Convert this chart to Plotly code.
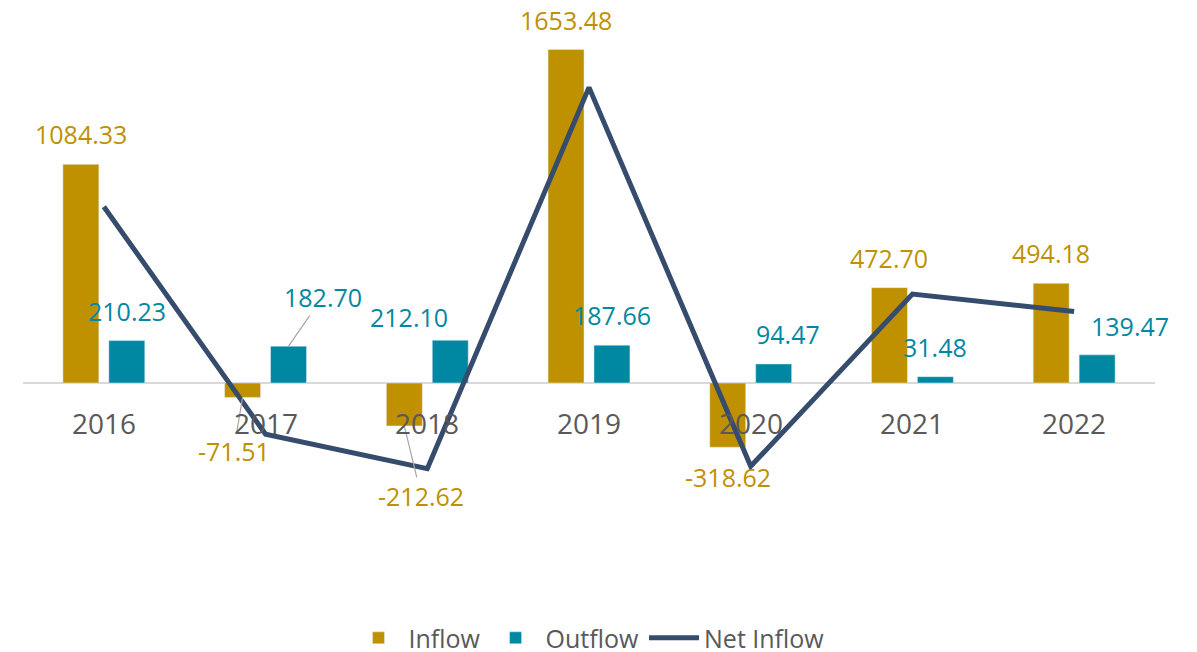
"""
Inflow / outflow by year with net inflow line — Excel-style combo chart.
"""

import plotly.graph_objects as go

# ── Data ──────────────────────────────────────────────────────────────────────
YEARS      = ["2016", "2017", "2018", "2019", "2020", "2021", "2022"]
INFLOW     = [1084.33, -71.51, -212.62, 1653.48, -318.62, 472.70, 494.18]
OUTFLOW    = [210.23, 182.70, 212.10, 187.66, 94.47, 31.48, 139.47]
NET_INFLOW = [874.10, -254.21, -424.72, 1465.82, -413.09, 441.22, 354.71]

# ── Palette ───────────────────────────────────────────────────────────────────
GOLD   = "#BF9000"
TEAL   = "#0088A2"
NAVY   = "#354C6D"
GREY   = "#595959"
ZERO   = "#D9D9D9"
LEADER = "#A6A6A6"
FONT   = "Open Sans, Noto Sans, Arial, sans-serif"

BAR_SHIFT = 23      # px from category centre to each bar centre
GAP       = 30      # px between bar end and its label centre

# label nudges (dx, dy in px, leader line?) for labels Excel moved by hand
MOVED_IN  = {1: (-9, 54, True), 2: (17, 70, True)}
MOVED_OUT = {1: (34, -49, True), 2: (-41, -23, False), 4: (14, -30, False), 6: (33, -29, False)}

fig = go.Figure()
fig.add_trace(go.Bar(x=YEARS, y=INFLOW, name="Inflow", marker_color=GOLD))
fig.add_trace(go.Bar(x=YEARS, y=OUTFLOW, name="Outflow", marker_color=TEAL))
fig.add_trace(go.Scatter(x=YEARS, y=NET_INFLOW, name="Net Inflow", mode="lines",
                         line=dict(color=NAVY, width=5)))


# ── Data labels ───────────────────────────────────────────────────────────────
# on a category axis annotations take the category's serial number
def _labels(values, shift, color, moved):
    for i, v in enumerate(values):
        dx, dy, leader = moved.get(i, (0, -GAP if v >= 0 else GAP, False))
        font = dict(family=FONT, size=25, color=color)
        if leader:
            fig.add_annotation(x=i, y=v, xshift=shift, text=f"{v:.2f}", font=font,
                               showarrow=True, ax=dx, ay=dy, arrowhead=0,
                               arrowwidth=1.2, arrowcolor=LEADER, standoff=0)
        else:
            fig.add_annotation(x=i, y=v, xshift=shift + dx, yshift=-dy,
                               text=f"{v:.2f}", font=font, showarrow=False,
                               yanchor="middle")


_labels(INFLOW, -BAR_SHIFT, GOLD, MOVED_IN)
_labels(OUTFLOW, BAR_SHIFT, TEAL, MOVED_OUT)

# category labels sit under the zero line, like Excel's axis at 0
for i, yr in enumerate(YEARS):
    fig.add_annotation(x=i, y=0, yshift=-40, text=yr, showarrow=False, yanchor="middle",
                       font=dict(family=FONT, size=28, color=GREY))

# the page body adds an 8px margin, so the figure is 8px smaller than the window
fig.update_layout(
    width=1189, height=644,
    paper_bgcolor="white", plot_bgcolor="white",
    margin=dict(l=15, r=42, t=12, b=148, autoexpand=False),
    barmode="group", bargap=0.432, bargroupgap=0.217,
    font=dict(family=FONT, color=GREY),
    xaxis=dict(type="category", range=[-0.5, len(YEARS) - 0.5], showticklabels=False,
               showgrid=False, zeroline=False, showline=False),
    yaxis=dict(range=[-600, 1800], showticklabels=False, showgrid=False,
               zeroline=True, zerolinecolor=ZERO, zerolinewidth=2, showline=False),
    legend=dict(orientation="h", x=0.5, xanchor="center", y=-0.277, yanchor="middle",
                font=dict(family=FONT, size=25, color=GREY), traceorder="normal",
                itemwidth=50),
    showlegend=True,
)

fig.write_html("out.html")
